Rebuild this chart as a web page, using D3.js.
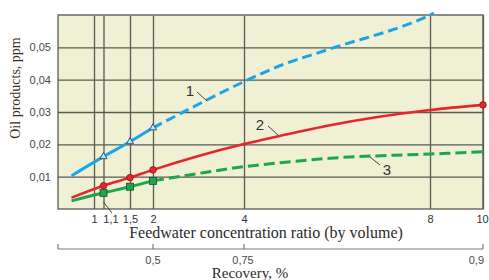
<!DOCTYPE html>
<html><head><meta charset="utf-8">
<script src="https://cdn.jsdelivr.net/npm/d3@7/dist/d3.min.js"></script>
<style>body{margin:0;background:#fff}svg{display:block}</style>
</head><body>
<svg id="chart" width="489" height="280"></svg>
<script>
// ---- data ----
const ratioTicks = [1, 1.1, 1.5, 2, 4, 8, 10];
const ratioTickLabels = ["1", "1,1", "1,5", "2", "4", "8", "10"];
const recoveryAt = [2, 4, 10];            // concentration ratio positions of recovery ticks
const recoveryLabels = ["0,5", "0,75", "0,9"];
const yTicks = [0.01, 0.02, 0.03, 0.04, 0.05];
const yTickLabels = ["0,01", "0,02", "0,03", "0,04", "0,05"];

const ratio1 = [0.75, 1.1, 1.5, 2, 3, 4, 4.77, 5.85, 8, 8.15];
const oil1   = [0.0103, 0.0162, 0.0208, 0.0251, 0.0324, 0.0394, 0.0443, 0.0495, 0.0600, 0.0606];
const ratio2 = [0.75, 1.1, 1.5, 2, 3, 4, 4.77, 5.85, 8, 10];
const oil2   = [0.0035, 0.0072, 0.0097, 0.0121, 0.0164, 0.0201, 0.0226, 0.0259, 0.0306, 0.0322];
const ratio3 = [0.75, 1.1, 1.5, 2, 3, 4, 4.77, 5.85, 8, 10];
const oil3   = [0.0025, 0.0050, 0.0069, 0.0087, 0.0110, 0.0131, 0.0143, 0.0157, 0.0170, 0.0177];
const markers1 = [1.1, 1.5, 2];
const markers2 = [1.1, 1.5, 2, 10];
const markers3 = [1.1, 1.5, 2];
const curveLabels = ["1", "2", "3"];

(function () {
// ---- layout ----
const svg = d3.select("#chart");
const pL = 58, pR = 483, pT = 15, pB = 209;
const x = d3.scaleLinear()
  .domain([0.6, 1, 1.1, 1.5, 2, 4, 8, 10])
  .range([pL, 94, 103.5, 130, 153, 244, 430, pR]);
const y = d3.scaleLinear().domain([0, 0.06]).range([pB, pT]);

const gridColor = "#5b5b52";
svg.append("rect").attr("x", pL).attr("y", pT).attr("width", pR - pL).attr("height", pB - pT)
  .attr("fill", "#eff0d4");

svg.append("clipPath").attr("id", "pc").append("rect")
  .attr("x", pL - 2).attr("y", pT - 4).attr("width", pR - pL + 4).attr("height", pB - pT + 6);

// horizontal grid (y axis)
const yAxis = d3.axisLeft(y).tickValues(yTicks).tickSize(-(pR - pL))
  .tickFormat((d, i) => yTickLabels[i]).tickPadding(7);
const gy = svg.append("g").attr("transform", `translate(${pL},0)`).call(yAxis);
gy.select(".domain").remove();
gy.selectAll("line").attr("stroke", gridColor).attr("stroke-width", 1.3);
gy.selectAll("text").attr("font-family", "Liberation Sans, Arial, sans-serif").attr("font-size", 11).attr("fill", "#4a4a4a");

// vertical grid (x axis)
const xAxis = d3.axisBottom(x).tickValues(ratioTicks).tickSize(-(pB - pT))
  .tickFormat((d, i) => ratioTickLabels[i]).tickPadding(6);
const gx = svg.append("g").attr("transform", `translate(0,${pB})`).call(xAxis);
gx.select(".domain").remove();
gx.selectAll("line").attr("stroke", gridColor).attr("stroke-width", 1.3);
gx.selectAll("text").attr("font-family", "Liberation Sans, Arial, sans-serif").attr("font-size", 11).attr("fill", "#333")
  .attr("dx", d => d === 1.1 ? 7 : (d === 10 ? -1 : 0));

// frame
svg.append("rect").attr("x", pL).attr("y", pT).attr("width", pR - pL).attr("height", pB - pT)
  .attr("fill", "none").attr("stroke", gridColor).attr("stroke-width", 1.3);
svg.append("line").attr("x1", pL).attr("x2", pR).attr("y1", pT).attr("y2", pT).attr("stroke", "#8a8a86").attr("stroke-width", 1.5);

// curves
const line = d3.line().x(d => x(d[0])).y(d => y(d[1])).curve(d3.curveMonotoneX);
function pairs(xs, ys, f) { return xs.map((k, i) => [k, ys[i]]).filter(d => f(d[0])); }
const plot = svg.append("g").attr("clip-path", "url(#pc)");

const blue = "#1aa6e6", red = "#e8252b", green = "#1fa64b";
plot.append("path").attr("d", line(pairs(ratio1, oil1, k => k <= 2))).attr("fill", "none").attr("stroke", blue).attr("stroke-width", 3);
plot.append("path").attr("d", line(pairs(ratio1, oil1, k => k >= 2))).attr("fill", "none").attr("stroke", blue).attr("stroke-width", 3).attr("stroke-dasharray", "10,5");
plot.append("path").attr("d", line(pairs(ratio2, oil2, k => true))).attr("fill", "none").attr("stroke", red).attr("stroke-width", 2.6);
plot.append("path").attr("d", line(pairs(ratio3, oil3, k => k <= 2))).attr("fill", "none").attr("stroke", green).attr("stroke-width", 3);
plot.append("path").attr("d", line(pairs(ratio3, oil3, k => k >= 2))).attr("fill", "none").attr("stroke", green).attr("stroke-width", 3).attr("stroke-dasharray", "11,5");

function val(xs, ys, k) { return ys[xs.indexOf(k)]; }
// markers
svg.selectAll(".tri").data(markers1).enter().append("path")
  .attr("d", d3.symbol().type(d3.symbolTriangle).size(22))
  .attr("transform", d => `translate(${x(d)},${y(val(ratio1, oil1, d))})`)
  .attr("fill", "#bfe6f6").attr("stroke", "#2c4f86").attr("stroke-width", 1);
svg.selectAll(".cir").data(markers2).enter().append("circle")
  .attr("cx", d => x(d)).attr("cy", d => y(val(ratio2, oil2, d))).attr("r", 3.3)
  .attr("fill", red).attr("stroke", "#8a1a1a").attr("stroke-width", 0.8);
svg.selectAll(".sq").data(markers3).enter().append("rect")
  .attr("x", d => x(d) - 3.5).attr("y", d => y(val(ratio3, oil3, d)) - 3.5).attr("width", 7).attr("height", 7)
  .attr("fill", green).attr("stroke", "#1d4a2a").attr("stroke-width", 0.8);

// curve labels with leaders
const labelPos = [[190, 96, 197, 92, 207, 101], [260, 130, 268, 126, 278, 135], [387, 175, 370, 157, 380, 165]];
labelPos.forEach((p, i) => {
  svg.append("text").attr("x", p[0]).attr("y", p[1]).attr("text-anchor", "middle")
    .attr("font-family", "Liberation Sans, Arial, sans-serif").attr("font-size", 15).attr("fill", "#333").text(curveLabels[i]);
  svg.append("line").attr("x1", p[2]).attr("y1", p[3]).attr("x2", p[4]).attr("y2", p[5]).attr("stroke", "#444").attr("stroke-width", 1);
});
svg.append("line").attr("x1", x(1.1)).attr("y1", 202).attr("x2", 112).attr("y2", 213).attr("stroke", "#444").attr("stroke-width", 1);

// axis titles
const serif = "Liberation Serif, Times New Roman, serif";
svg.append("text").attr("x", 266).attr("y", 238).attr("text-anchor", "middle").attr("font-family", serif)
  .attr("font-size", 16).attr("fill", "#2a2a2a").text("Feedwater concentration ratio (by volume)");
svg.append("text").attr("transform", "translate(20,88) rotate(-90)").attr("text-anchor", "middle").attr("font-family", serif)
  .attr("font-size", 14).attr("fill", "#3a3020").text("Oil products, ppm");

// recovery axis
const ry = 249;
svg.append("line").attr("x1", pL).attr("x2", pR).attr("y1", ry).attr("y2", ry).attr("stroke", "#7a7a7a").attr("stroke-width", 1.2);
[x.domain()[0]].concat(recoveryAt).forEach(k => {
  svg.append("line").attr("x1", x(k)).attr("x2", x(k)).attr("y1", ry).attr("y2", ry - 5).attr("stroke", "#7a7a7a").attr("stroke-width", 1.2);
});
svg.selectAll(".rl").data(recoveryAt).enter().append("text")
  .attr("x", d => x(d)).attr("y", 264)
  .attr("text-anchor", (d, i) => i === recoveryAt.length - 1 ? "end" : "middle")
  .attr("dx", (d, i) => i === recoveryAt.length - 1 ? 1 : (i === 1 ? -1 : 0))
  .attr("font-family", "Liberation Sans, Arial, sans-serif").attr("font-size", 11).attr("fill", "#4a4a4a")
  .text((d, i) => recoveryLabels[i]);
svg.append("text").attr("x", 250).attr("y", 278).attr("text-anchor", "middle").attr("font-family", serif)
  .attr("font-size", 15).attr("fill", "#2a2a2a").text("Recovery, %");
})();
</script>
</body></html>
